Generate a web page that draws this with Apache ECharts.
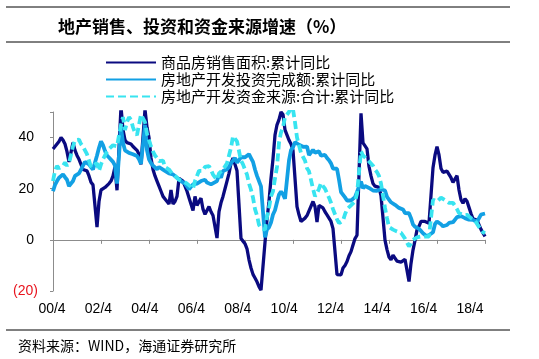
<!DOCTYPE html>
<html><head><meta charset="utf-8">
<script src="https://cdn.jsdelivr.net/npm/echarts@6/dist/echarts.min.js"></script>
<style>html,body{margin:0;padding:0;background:#fff;}#c{width:539px;height:359px;}</style>
</head><body><div id="c"></div>
<script>
// monthly categories 2000-04 .. 2018-04 (January values missing in source -> null)
const firstMonth = [2000, 4];
const lastMonth = [2018, 4];
const tickLabels = ['00/4','02/4','04/4','06/4','08/4','10/4','12/4','14/4','16/4','18/4'];
const seriesNames = ['商品房销售面积:累计同比','房地产开发投资完成额:累计同比','房地产开发资金来源:合计:累计同比'];
const yLabelsShown = [-20, 0, 20, 40];

const sales = [
 35.5,36.5,37.5,38.5,40,39,37.5,34.5,30.5,
 null,38,35,33,31.5,29.5,27.5,27,27,25,22.5,21.5,
 null,5,15,19.5,20,20.5,21,22,23,25,28.5,19.4,
 null,52,43,39,38,38,37.5,36.5,36,35,33.5,29.5,
 null,51,44,40,32,27.5,25,23,21,19,17,16,
 null,14,19.5,14,15,17,24,24,23,21,19,16.5,
 null,11.5,17,13.5,14,16.3,12,10,9.5,13,11,9.5,
 null,0.7,11,14.5,17,20,23,26,30,32,32,27,
 null,0.5,-0.5,-1.5,-3.5,-7.8,-11,-13.5,-14.9,-16.4,-18.3,-19.7,
 null,-1,8,15,24,31.7,41,45,47,50,49,43,
 null,39,37.5,35,24,13,9.8,7.2,7.5,8.5,9.5,10.1,
 null,15,13,7,13.5,13,12.5,11,9.8,8.5,7.2,4.4,
 null,-13.6,-14,-13.7,-11,-10,-8.5,-6.2,-4.6,-2,0.5,1.8,
 null,49.5,37.9,38,35.6,28.7,25,22,21,20.5,20.5,17.3,
 null,-0.1,-3.8,-6.7,-7.8,-6,-6.7,-8.3,-8.6,-8.7,-8.2,-7.6,
 null,-16.3,-9.2,-4,-0.2,3.9,5.3,7.2,7.5,7.2,7.4,6.5,
 null,28.2,33.1,36.5,33.2,27.9,26.4,26.1,26.9,26.8,24.3,22.5,
 null,25.1,19.5,15.7,14.3,16.1,15.1,12.7,10.3,8.2,7.9,7.7,
 null,4.1,3.6,1.3
];
const investment = [
 19,21.5,23,24.3,25,25.6,24.5,23.5,21,
 null,23,25,24.5,26,27.5,29,30.5,30,29.5,28.5,27.5,
 null,33,36,38.5,37,34.8,33,32.2,31.5,30.5,29,22,
 null,44,38,35,34.6,34,34,33.5,33.3,32.8,31.5,29.7,
 null,45,35,31.5,30,29,28.5,27.6,28.5,28,27.5,28.1,
 null,26,26.5,25.6,25,24.3,24,23,22.4,22,21.5,19.8,
 null,21.7,21.5,22,22.4,23,23.7,23.5,22.4,22.5,21.7,21.8,
 null,23,25.5,24.3,26.9,26.3,27.6,28.5,30,31,32,30.2,
 null,32.3,32.1,32.3,32.9,33.5,32,30.5,27.5,25,23,20.9,
 null,1.0,4.1,4.9,6.8,9.9,11.6,14.7,17.7,18.9,17.8,16.1,
 null,31.1,35.1,36.2,38.2,38.1,37.2,36.7,36.4,36.5,36.5,33.2,
 null,35.2,34.1,34.3,34.6,32.9,33.6,33.2,32.0,31.1,29.9,27.9,
 null,27.8,23.5,18.7,18.5,16.6,15.4,15.6,15.4,15.4,16.7,16.2,
 null,22.8,20.2,21.1,20.6,20.3,20.5,19.3,19.7,19.2,19.5,19.8,
 null,19.3,16.8,16.4,14.7,14.1,13.7,13.2,12.5,12.4,11.9,10.5,
 null,10.4,8.5,6.0,5.1,4.6,4.3,3.5,2.6,2.0,1.3,1.0,
 null,3.0,6.2,7.2,7.0,6.1,5.3,5.4,5.8,6.6,6.5,6.9,
 null,8.9,9.1,9.3,8.8,8.5,7.9,7.9,8.1,7.8,7.5,7.0,
 null,9.9,10.4,10.3
];
const funding = [
 23,27,28.9,28,27.6,29,30.2,29,30,
 null,36.6,39,39.4,39.2,37.5,36.5,35,33.5,31,28.5,28.5,
 null,30,27,29.5,31.5,33,34.5,35.5,36,37,37.5,36.6,
 null,45,48,43,46,48,47,44,42,41,40.5,49,
 null,46,41.5,39,36.5,34.5,33,32,30.8,30.5,31,28.5,
 null,27.5,26.5,26.5,25,24.5,23.5,23,23,22.5,22,21.5,
 null,20,23,23.5,27,27.5,27,28.5,29,28.8,27.5,25.5,
 null,23.5,26,26.5,27.5,28.2,30,33,36,40.5,40,38.5,
 null,31,29.5,27.5,25.5,22,19.6,16.5,12,9.5,5.9,4.6,
 null,4,9,12.5,17,19,24,28.5,38,42,44,48,
 null,50,52,51,46,40,37,34,32.5,31,28,26.8,
 null,20,17,18.3,20,22.2,21,20,19.6,16.5,14.5,12,
 null,8,6.5,7,7.5,10,12,12.5,13.5,14,15,18,
 null,34.6,33,32.5,31.5,30.7,30,29,27.5,26.5,25,22,
 null,12.5,8.5,5,4.5,4,3.5,3.3,3,2.8,2.2,0.5,
 null,-2.6,-1.5,0,0.5,1,1.3,1.3,1.3,1.3,1,1.3,
 null,15.7,15,15,15.5,16.5,16.5,15.5,15,14.5,14,14.5,
 null,12,10.5,9.8,9.8,10,9.8,9.5,8.5,8.5,7.5,7.5,
 null,3.9,3,2.6
];

const months = [];
{
  let y = firstMonth[0], m = firstMonth[1];
  while (y < lastMonth[0] || (y === lastMonth[0] && m <= lastMonth[1])) {
    months.push(y + '-' + (m < 10 ? '0' + m : m));
    m++; if (m > 12) { m = 1; y++; }
  }
}

const colors = ['#0a0a80', '#12a0e4', '#38e4f0'];
const chart = echarts.init(document.getElementById('c'), null, {renderer: 'canvas'});
const axisGray = '#8c8c8c';
chart.setOption({
  animation: false,
  backgroundColor: '#fff',
  textStyle: {fontFamily: '"Liberation Sans", Arial, sans-serif'},
  grid: [
    {left: 53, right: 54, top: 112, bottom: 68},
    {left: 52, right: 69, top: 112, bottom: 68}
  ],
  legend: {
    orient: 'vertical', left: 105, top: 55, padding: 0,
    itemWidth: 50, itemHeight: 14, itemGap: 2,
    itemStyle: {opacity: 0},
    textStyle: {fontSize: 15, color: '#000', fontFamily: '"Noto Sans CJK SC"', lineHeight: 15},
    data: seriesNames
  },
  xAxis: [
    {type: 'category', gridIndex: 0, data: months, boundaryGap: false,
     axisLine: {onZero: true, lineStyle: {color: axisGray, width: 1}},
     axisTick: {interval: 23, length: 4, lineStyle: {color: axisGray}},
     axisLabel: {show: false}, splitLine: {show: false}},
    {type: 'category', gridIndex: 1, data: tickLabels, boundaryGap: false,
     axisLine: {show: false, onZero: false}, axisTick: {show: false},
     axisLabel: {interval: 0, margin: 11, fontSize: 14, color: '#000', fontFamily: '"Liberation Sans", Arial'}}
  ],
  yAxis: [
    {type: 'value', gridIndex: 0, min: -20, max: 50, interval: 20,
     axisLine: {show: true, lineStyle: {color: axisGray}},
     axisTick: {show: true, length: 3, lineStyle: {color: axisGray}},
     splitLine: {show: false},
     axisLabel: {margin: 15, fontSize: 14, fontFamily: '"Liberation Sans", Arial',
       formatter: function (v) {
         if (yLabelsShown.indexOf(v) < 0) return '';
         return v < 0 ? '{n|(' + (-v) + ')}' : '{p|' + v + '}';
       },
       rich: {n: {color: '#e8141e', fontSize: 14, fontFamily: '"Liberation Sans", Arial'},
              p: {color: '#000', fontSize: 14, padding: [0, 4, 0, 0], fontFamily: '"Liberation Sans", Arial'}}}},
    {type: 'value', gridIndex: 1, min: -20, max: 50, show: false}
  ],
  series: [
    {name: seriesNames[0], type: 'line', data: sales, symbol: 'none', connectNulls: true,
     lineStyle: {color: colors[0], width: 3.3}, itemStyle: {color: colors[0]}},
    {name: seriesNames[1], type: 'line', data: investment, symbol: 'none', connectNulls: true,
     lineStyle: {color: colors[1], width: 3.8}, itemStyle: {color: colors[1]}},
    {name: seriesNames[2], type: 'line', data: funding, symbol: 'none', connectNulls: true,
     lineStyle: {color: colors[2], width: 3.8, type: [8, 4]}, itemStyle: {color: colors[2]}}
  ],
  graphic: [
    {type: 'line', shape: {x1: 6, y1: 7, x2: 510, y2: 7}, style: {stroke: '#000', lineWidth: 1}},
    {type: 'line', shape: {x1: 6, y1: 42, x2: 510, y2: 42}, style: {stroke: '#000', lineWidth: 1}},
    {type: 'line', shape: {x1: 6, y1: 330, x2: 510, y2: 330}, style: {stroke: '#000', lineWidth: 1}},
    {type: 'text', x: 58, y: 27, style: {text: '地产销售、投资和资金来源增速（%）', font: 'bold 17px "Noto Sans CJK SC"', fill: '#000', verticalAlign: 'middle'}},
    {type: 'text', x: 18, y: 346, style: {text: '资料来源：WIND，海通证券研究所', font: '14px "Noto Sans CJK SC"', fill: '#000', verticalAlign: 'middle'}}
  ]
});
</script>
</body></html>
